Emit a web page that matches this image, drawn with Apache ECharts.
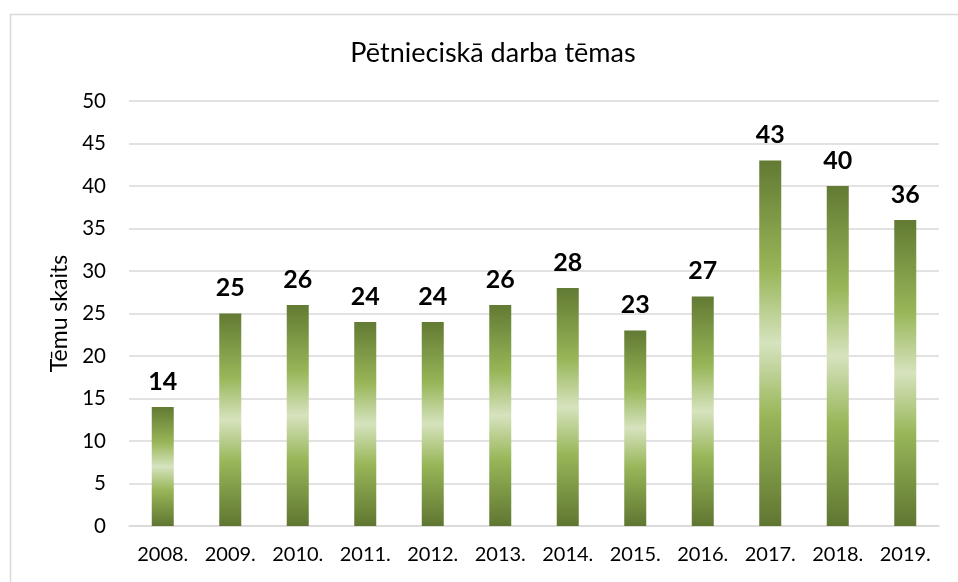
<!DOCTYPE html>
<html>
<head>
<meta charset="utf-8">
<script src="https://cdn.jsdelivr.net/npm/echarts@6/dist/echarts.min.js"></script>
<style>
  html, body { margin: 0; padding: 0; background: #fff; }
  #chart { width: 958px; height: 582px; }
</style>
</head>
<body>
<div id="chart"></div>
<script>
// kategorijas un vērtības
var years = ["2008.", "2009.", "2010.", "2011.", "2012.", "2013.", "2014.", "2015.", "2016.", "2017.", "2018.", "2019."];
var topicCounts = [14, 25, 26, 24, 24, 26, 28, 23, 27, 43, 40, 36];
var yMin = 0;
var yMax = 50;
var yStep = 5;

var chart = echarts.init(document.getElementById("chart"));
var font = "Lato, 'Open Sans', sans-serif";

chart.setOption({
  animation: false,
  textStyle: { fontFamily: font },
  title: {
    text: "Pētnieciskā darba tēmas",
    left: 488,
    top: 35,
    textAlign: "center",
    textStyle: { fontFamily: font, fontSize: 27, fontWeight: "normal", color: "#000" }
  },
  graphic: [
    {
      type: "rect",
      left: 8,
      top: 12,
      shape: { width: 1000, height: 1000 },
      style: { fill: "none", stroke: "#d9d9d9", lineWidth: 1.5 },
      silent: true
    }
  ],
  grid: { left: 129, right: 19, top: 101, bottom: 56 },
  xAxis: {
    type: "category",
    data: years,
    axisLine: { lineStyle: { color: "#d9d9d9", width: 1.5 } },
    axisTick: { show: false },
    axisLabel: { color: "#000", fontSize: 20, margin: 19, fontFamily: font }
  },
  yAxis: {
    type: "value",
    min: yMin,
    max: yMax,
    interval: yStep,
    name: "Tēmu skaits",
    nameLocation: "middle",
    nameGap: 58,
    nameTextStyle: { color: "#000", fontSize: 23, fontFamily: font },
    axisLine: { show: false },
    axisTick: { show: false },
    axisLabel: { color: "#000", fontSize: 20.5, margin: 23, fontFamily: font },
    splitLine: { lineStyle: { color: "#d9d9d9", width: 1.5 } }
  },
  series: [
    {
      type: "bar",
      data: topicCounts,
      barWidth: 22,
      itemStyle: {
        color: new echarts.graphic.LinearGradient(0, 0, 0, 1, [
          { offset: 0, color: "#627a33" },
          { offset: 0.3, color: "#98b658" },
          { offset: 0.5, color: "#d6e3be" },
          { offset: 0.7, color: "#98b658" },
          { offset: 1, color: "#5f7631" }
        ])
      },
      label: {
        show: true,
        position: "top",
        distance: 13,
        color: "#000",
        fontSize: 25,
        fontWeight: "bold",
        fontFamily: font
      }
    }
  ]
});
</script>
</body>
</html>
